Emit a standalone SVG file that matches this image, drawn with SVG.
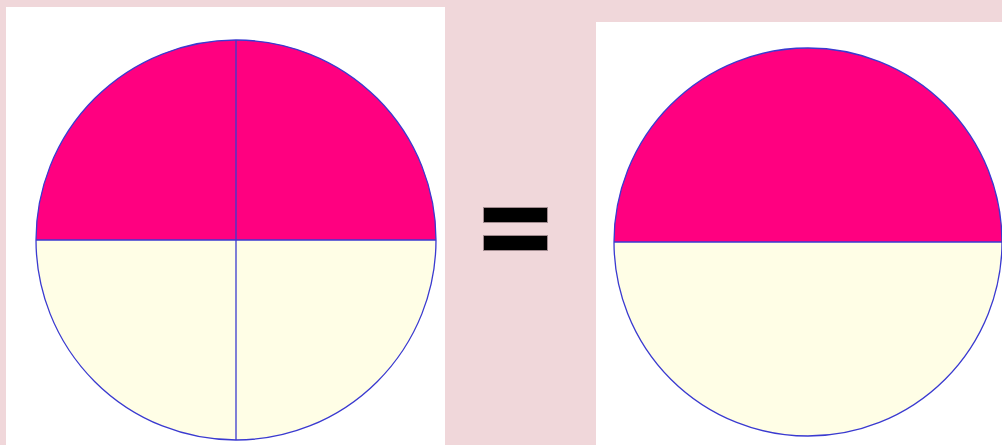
<svg xmlns="http://www.w3.org/2000/svg" width="1002" height="445" viewBox="0 0 1002 445">
<style>
.panel{fill:#ffffff}
.top{fill:#ff0080}
.bot{fill:#fffee6}
.edge{fill:none;stroke:#3a3ad0;stroke-width:1.3}
.bar{fill:#000000;stroke:#a08a8e;stroke-width:1}
</style>
<rect x="0" y="0" width="1002" height="445" fill="#f0d7da"/>
<g id="left">
<rect class="panel" x="6" y="7" width="439" height="438"/>
<path class="top" d="M36 240 A200 200 0 0 1 436 240 Z"/>
<path class="bot" d="M36 240 A200 200 0 0 0 436 240 Z"/>
<circle class="edge" cx="236" cy="240" r="200"/>
<line class="edge" x1="36" y1="240" x2="436" y2="240"/>
<line class="edge" x1="236" y1="40" x2="236" y2="440"/>
</g>
<g id="equals">
<rect class="bar" x="483.5" y="207.5" width="64" height="15"/>
<rect class="bar" x="483.5" y="235.5" width="64" height="15"/>
</g>
<g id="right">
<rect class="panel" x="596" y="22" width="406" height="423"/>
<path class="top" d="M614 242 A194 194 0 0 1 1002 242 Z"/>
<path class="bot" d="M614 242 A194 194 0 0 0 1002 242 Z"/>
<circle class="edge" cx="808" cy="242" r="194"/>
<line class="edge" x1="614" y1="242" x2="1002" y2="242"/>
</g>
<g id="connectors"/>
</svg>
